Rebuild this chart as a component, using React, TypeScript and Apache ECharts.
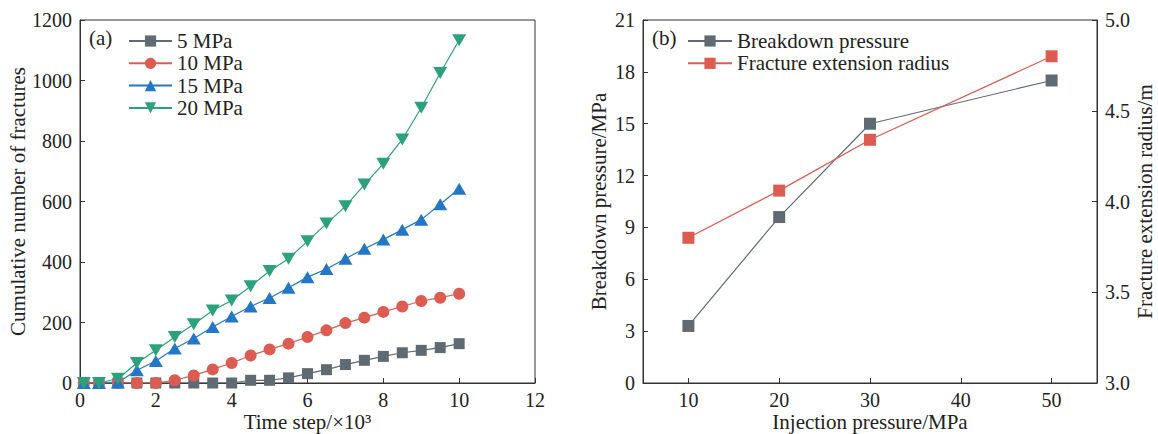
import React, { useEffect, useRef } from "react";
import * as echarts from "echarts";

const timeSteps = [0.1, 0.5, 1, 1.5, 2, 2.5, 3, 3.5, 4, 4.5, 5, 5.5, 6, 6.5, 7, 7.5, 8, 8.5, 9, 9.5, 10];
const s5MPa = [0, 0, 0, 0, 0, 0, 0, 0, 0, 9, 9, 17, 31, 44, 61, 75, 88, 100, 108, 117, 130];
const s10MPa = [0, 0, 0, 0, 0, 9, 25, 45, 66, 91, 111, 130, 152, 174, 198, 216, 235, 253, 271, 282, 295];
const s15MPa = [0, 0, 2, 42, 73, 114, 147, 185, 220, 253, 281, 315, 350, 377, 411, 444, 474, 507, 540, 591, 642];
const s20MPa = [0, 0, 14, 66, 108, 152, 194, 240, 273, 320, 370, 411, 469, 527, 584, 656, 725, 805, 910, 1025, 1133];
const seriesNamesA = ["5 MPa", "10 MPa", "15 MPa", "20 MPa"];

const injectionPressure = [10, 20, 30, 50];
const breakdownPressure = [3.3, 9.6, 15.0, 17.5];
const extensionRadius = [3.8, 4.06, 4.34, 4.8];
const injectionTicks = [10, 20, 30, 40, 50];

const FONT = "Liberation Serif";
const TXT = "#222";
const AX = "#333";
const GRAY = "#5f6a72";
const RED = "#dc5c52";
const BLUE = "#2377c4";
const GREEN = "#2ca27c";

const pair = (xs: number[], ys: number[]) => xs.map((x, i) => [x, ys[i]]);

export default function App() {
  const ref = useRef<HTMLDivElement>(null);
  useEffect(() => {
    if (!ref.current) return;
    const chart = echarts.init(ref.current, undefined, { renderer: "svg" });
    const axisCommon = {
      axisLine: { show: true, lineStyle: { color: AX, width: 1 } },
      axisTick: { show: true, inside: true, length: 5, lineStyle: { color: AX } },
      axisLabel: { color: TXT, fontFamily: FONT, fontSize: 20, lineHeight: 18, formatter: (v: number) => String(v) },
      splitLine: { show: false },
      nameTextStyle: { color: TXT, fontFamily: FONT, fontSize: 21, lineHeight: 20 },
      nameLocation: "middle" as const,
      nameMoveOverlap: false,
    };
    const xLabel = { ...axisCommon.axisLabel, margin: 8 };
    const lineCommon = {
      type: "line" as const,
      lineStyle: { width: 1.2 },
    };
    const legendText = { color: TXT, fontFamily: FONT, fontSize: 21, lineHeight: 22 };
    chart.setOption({
      animation: false,
      backgroundColor: "#fff",
      grid: [
        { left: 80, right: 623, top: 20, bottom: 51, show: true, borderColor: AX, borderWidth: 1, outerBoundsMode: "none", containLabel: false },
        { left: 643, right: 61, top: 20, bottom: 51, show: true, borderColor: AX, borderWidth: 1, outerBoundsMode: "none", containLabel: false },
      ],
      xAxis: [
        {
          ...axisCommon,
          gridIndex: 0,
          type: "value",
          min: 0,
          max: 12,
          interval: 2,
          axisLabel: xLabel,
          name: "Time step/×10³",
          nameGap: 29,
        },
        {
          ...axisCommon,
          gridIndex: 1,
          type: "value",
          min: 5,
          max: 55,
          axisTick: { ...axisCommon.axisTick, customValues: injectionTicks },
          axisLabel: { ...xLabel, customValues: injectionTicks },
          name: "Injection pressure/MPa",
          nameGap: 29,
        },
      ],
      yAxis: [
        {
          ...axisCommon,
          gridIndex: 0,
          type: "value",
          min: 0,
          max: 1200,
          interval: 200,
          name: "Cumulative number of fractures",
          nameGap: 52,
        },
        {
          ...axisCommon,
          gridIndex: 1,
          type: "value",
          min: 0,
          max: 21,
          interval: 3,
          name: "Breakdown pressure/MPa",
          nameGap: 34,
        },
        {
          ...axisCommon,
          gridIndex: 1,
          type: "value",
          position: "right",
          min: 3,
          max: 5,
          interval: 0.5,
          axisLabel: { ...axisCommon.axisLabel, formatter: (v: number) => v.toFixed(1) },
          name: "Fracture extension radius/m",
          nameGap: 38,
          nameRotate: 90,
        },
      ],
      legend: [
        {
          left: 123,
          top: 25,
          orient: "vertical",
          itemWidth: 43,
          itemHeight: 14,
          itemGap: 0.3,
          textStyle: legendText,
          data: seriesNamesA,
        },
        {
          left: 682,
          top: 25,
          orient: "vertical",
          itemWidth: 44,
          itemHeight: 14,
          itemGap: 0.3,
          textStyle: legendText,
          data: ["Breakdown pressure", "Fracture extension radius"],
        },
      ],
      graphic: [
        { type: "text", left: 89, top: 27, style: { text: "(a)", font: `21px ${FONT}`, fill: TXT } },
        { type: "text", left: 652, top: 27, style: { text: "(b)", font: `21px ${FONT}`, fill: TXT } },
      ],
      series: [
        {
          ...lineCommon,
          name: seriesNamesA[0],
          xAxisIndex: 0,
          yAxisIndex: 0,
          data: pair(timeSteps, s5MPa),
          symbol: "rect",
          symbolSize: 11,
          itemStyle: { color: GRAY },
          lineStyle: { width: 1.2, color: GRAY },
        },
        {
          ...lineCommon,
          name: seriesNamesA[1],
          xAxisIndex: 0,
          yAxisIndex: 0,
          data: pair(timeSteps, s10MPa),
          symbol: "circle",
          symbolSize: 12,
          itemStyle: { color: RED },
          lineStyle: { width: 1.2, color: RED },
        },
        {
          ...lineCommon,
          name: seriesNamesA[2],
          xAxisIndex: 0,
          yAxisIndex: 0,
          data: pair(timeSteps, s15MPa),
          symbol: "triangle",
          symbolSize: [14, 12],
          itemStyle: { color: BLUE },
          lineStyle: { width: 1.2, color: BLUE },
        },
        {
          ...lineCommon,
          name: seriesNamesA[3],
          xAxisIndex: 0,
          yAxisIndex: 0,
          data: pair(timeSteps, s20MPa),
          symbol: "triangle",
          symbolRotate: 180,
          symbolSize: [14, 12],
          itemStyle: { color: GREEN },
          lineStyle: { width: 1.2, color: GREEN },
        },
        {
          ...lineCommon,
          name: "Breakdown pressure",
          xAxisIndex: 1,
          yAxisIndex: 1,
          data: pair(injectionPressure, breakdownPressure),
          symbol: "rect",
          symbolSize: 12,
          itemStyle: { color: GRAY },
          lineStyle: { width: 1.2, color: GRAY },
        },
        {
          ...lineCommon,
          name: "Fracture extension radius",
          xAxisIndex: 1,
          yAxisIndex: 2,
          data: pair(injectionPressure, extensionRadius),
          symbol: "rect",
          symbolSize: 12,
          itemStyle: { color: RED },
          lineStyle: { width: 1.2, color: RED },
        },
      ],
    });
    return () => chart.dispose();
  }, []);
  return (
    <div
      ref={ref}
      style={{ position: "absolute", left: 0, top: 0, width: 1158, height: 434, background: "#fff" }}
    />
  );
}
